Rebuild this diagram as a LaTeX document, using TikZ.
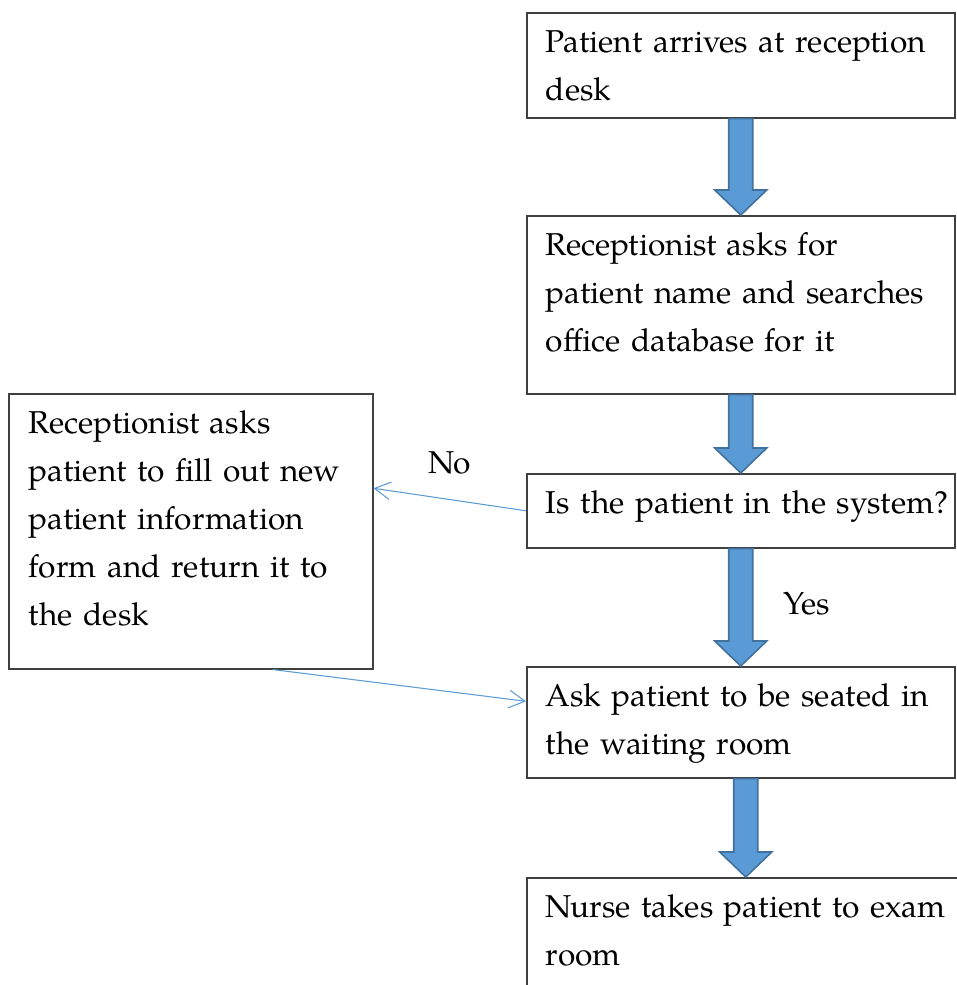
\documentclass[tikz,border=0pt]{standalone}
\usepackage{fontspec}
\setmainfont{TeX Gyre Pagella}
\usetikzlibrary{arrows.meta, positioning, calc}

\definecolor{arrowfill}{HTML}{5B9BD5}
\definecolor{arrowline}{HTML}{41719C}
\definecolor{boxline}{HTML}{404040}

% block arrow from the bottom of one box to the top of the next
\newcommand{\flowarrow}[3][0]{%
	\draw[bigarrow] ($(#2.south)+(#1-12,0)$) -- ($(#2.south |- #3.north)+(#1-12,25)$)
		-- ($(#2.south |- #3.north)+(#1-26,25)$) -- ($(#2.south |- #3.north)+(#1,0)$)
		-- ($(#2.south |- #3.north)+(#1+26,25)$) -- ($(#2.south |- #3.north)+(#1+12,25)$)
		-- ($(#2.south)+(#1+12,0)$) -- cycle;}

\begin{document}
\begin{tikzpicture}[x=0.02cm, y=0.02cm,
	every node/.style={font=\fontsize{18}{27.3}\selectfont},
	stepbox/.style={
		draw=boxline,
		line width=0.9pt,
		rectangle,
		anchor=north west,
		align=left,
		inner sep=0pt,
		text width=8.56cm,
		text height=0.8cm,
		execute at begin node={\leftskip=0.38cm}
	},
	sidebox/.style={
		stepbox,
		text width=7.28cm,
		execute at begin node={\leftskip=0.4cm}
	},
	bigarrow/.style={fill=arrowfill, draw=arrowline, line width=0.9pt},
	thinarrow/.style={-{Straight Barb[length=9pt, width=10pt]}, draw=arrowfill, line width=0.6pt},
	lbl/.style={inner sep=0pt}
	]

	\path[use as bounding box] (0,0) rectangle (957,-985);
	\clip (0,0) rectangle (957,-985);

	% Main column
	\node[stepbox, text depth=1.3cm] (arrive) at (526,-12)
	{Patient arrives at reception\\desk};
	\node[stepbox, text depth=2.76cm] (lookup) at (526,-215)
	{Receptionist asks for\\patient name and searches\\office database for it};
	\node[stepbox, text depth=0.68cm] (check) at (526,-473)
	{Is the patient in the system?};
	\node[stepbox, text depth=1.42cm] (seat) at (526,-666)
	{Ask patient to be seated in\\the waiting room};
	\node[stepbox, text depth=1.6cm, text width=8.8cm] (nurse) at (526,-877)
	{Nurse takes patient to exam\\room};

	% New patient branch
	\node[sidebox, text depth=4.7cm] (newform) at (8,-393)
	{Receptionist asks\\patient to fill out new\\patient information\\form and return it to\\the desk};

	\flowarrow{arrive}{lookup}
	\flowarrow{lookup}{check}
	\flowarrow{check}{seat}
	\flowarrow[5]{seat}{nurse}

	\node[lbl] (yes) at (807,-604) {Yes};

	\draw[thinarrow] (check.west) -- node[lbl, above=14pt]{No} ([yshift=0.86cm]newform.east);
	\draw[thinarrow] ([xshift=1.64cm]newform.south) -- ([yshift=0.42cm]seat.west);

\end{tikzpicture}
\end{document}
